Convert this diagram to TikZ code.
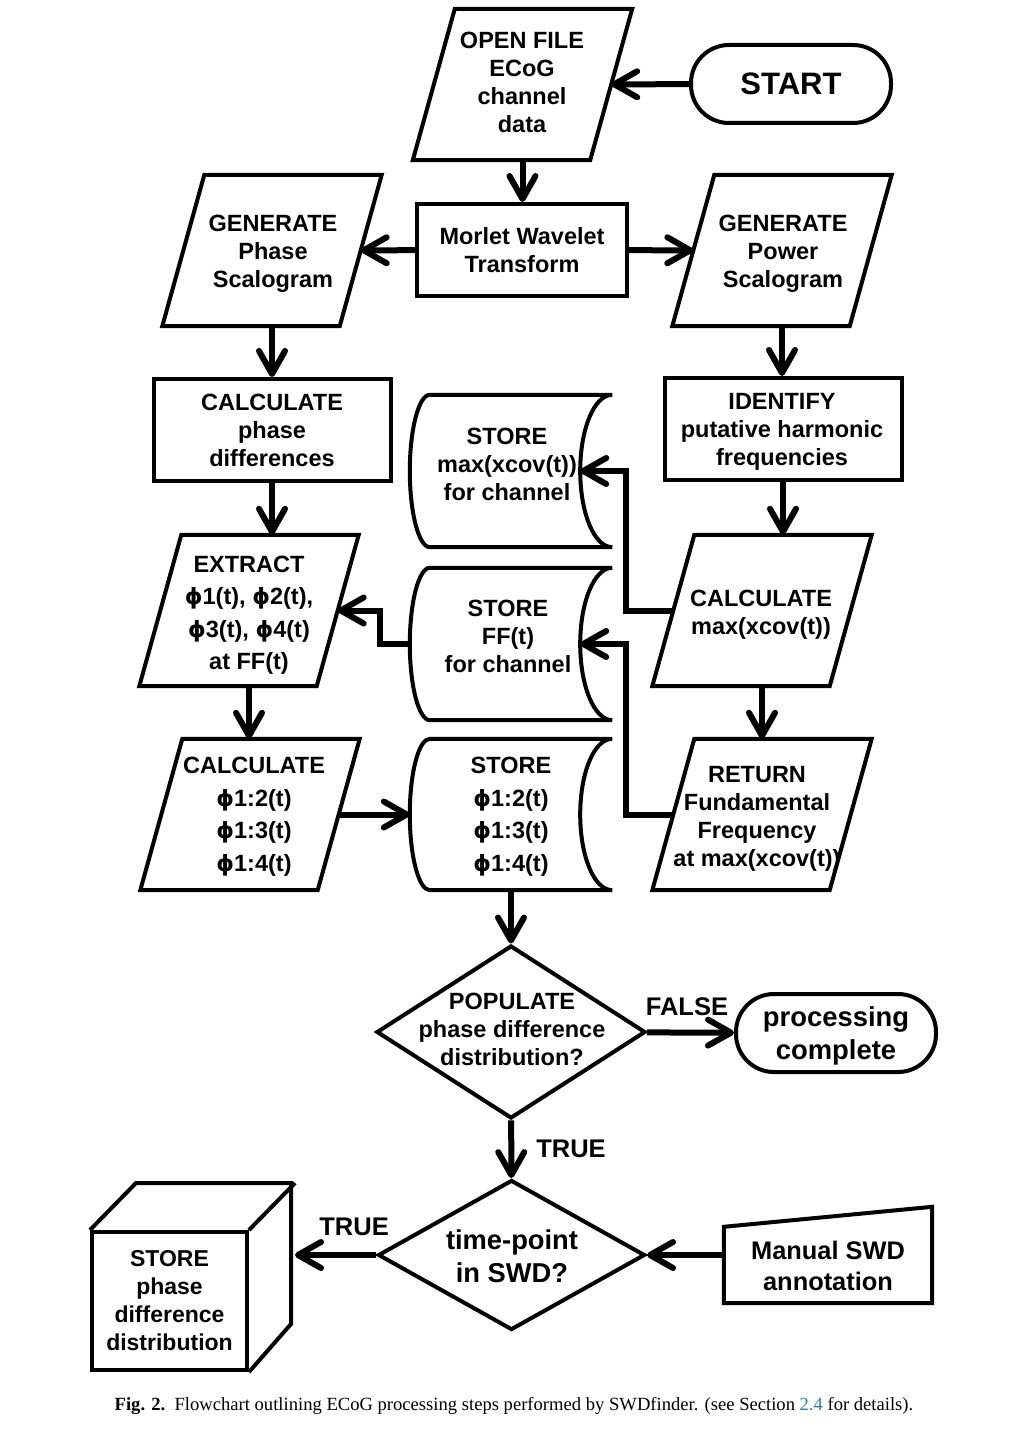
\documentclass[tikz,border=0pt]{standalone}
\usepackage{fontspec}
\setmainfont{Liberation Sans}
\newfontfamily\capfont{Liberation Serif}
\newfontfamily\symfont{DejaVu Sans}[Scale=0.95]
\usetikzlibrary{shapes.geometric,arrows.meta}
\definecolor{linkblue}{RGB}{40,125,185}

\newcommand{\bodyfont}{\fontsize{23.5pt}{28pt}\selectfont\bfseries}
\newcommand{\phifont}{\fontsize{23.5pt}{32.5pt}\selectfont\bfseries}
\newcommand{\ph}{{\symfont ϕ}}

% outline of a stored-data symbol round an empty node
\newcommand{\storedata}[1]{%
  \draw[outline] ([xshift=20pt]#1.north west) -- (#1.north east)
    .. controls ([xshift=-18pt]#1.north east) and ([shift={(-32,-42)}]#1.east) .. ([xshift=-32pt]#1.east)
    .. controls ([shift={(-32,42)}]#1.east) and ([xshift=-18pt]#1.south east) .. (#1.south east)
    -- ([xshift=20pt]#1.south west)
    .. controls ([xshift=9pt]#1.south west) and ([shift={(0,42)}]#1.west) .. (#1.west)
    .. controls ([shift={(0,-42)}]#1.west) and ([xshift=9pt]#1.north west) .. cycle;}
% slanted input/output box round an empty node
\newcommand{\iooutline}[1]{%
  \draw[outline] ([xshift=-21pt]#1.south west) -- ([xshift=21pt]#1.north west)
    -- ([xshift=21pt]#1.north east) -- ([xshift=-21pt]#1.south east) -- cycle;}

\begin{document}
\begin{tikzpicture}[x=1pt, y=-1pt,
    outline/.style={line width=4pt},
    arrow/.style={line width=6pt, -{Straight Barb[length=23pt,width=26pt,round]}},
    txt/.style={align=center, inner sep=0pt, font=\bodyfont},
    lbl/.style={inner sep=2pt, font=\fontsize{25.5pt}{30pt}\selectfont\bfseries},
    process/.style={rectangle, draw, outline, txt, minimum width=237pt, minimum height=102pt},
    io/.style={rectangle, minimum width=177pt, minimum height=151pt, inner sep=0pt},
    decision/.style={diamond, draw, outline, inner sep=0pt},
    terminal/.style={rectangle, draw, outline, rounded corners=38pt, txt,
      minimum width=200pt, minimum height=78pt},
    store/.style={rectangle, minimum width=202pt, minimum height=152pt, inner sep=0pt}]

    \useasboundingbox (0,0) rectangle (1014,1434);

    % top row
    \node[terminal, font=\fontsize{31pt}{36pt}\selectfont\bfseries] (start) at (791,84) {START};
    \node[io] (open) at (522.5,84.5) {};
    \iooutline{open}
    \node[txt] (opentxt) at (522,82) {OPEN FILE\\ECoG\\channel\\data};
    \node[process, minimum width=210pt, minimum height=92pt] (morlet) at (522,250) {Morlet Wavelet\\Transform};
    \node[io] (gphase) at (272,250.5) {};
    \iooutline{gphase}
    \node[txt] (gphasetxt) at (273,254) {GENERATE\\Phase\\Scalogram};
    \node[io] (gpower) at (782,250.5) {};
    \iooutline{gpower}
    \node[txt] (gpowertxt) at (783,254) {GENERATE\\Power\\Scalogram};

    % middle block
    \node[process] (cphase) at (272,430) {CALCULATE\\phase\\differences};
    \node[process] (ident) at (783,429) {};
    \node[txt] (identtxt) at (782,432) {IDENTIFY\\putative harmonic\\frequencies};
    \node[io] (extract) at (249,610.5) {};
    \iooutline{extract}
    \node[txt, font=\phifont] (extracttxt) at (249,615) {EXTRACT\\\ph1(t), \ph2(t),\\\ph3(t), \ph4(t)\\at FF(t)};
    \node[io] (cmax) at (762,610.5) {};
    \iooutline{cmax}
    \node[txt] (cmaxtxt) at (761,615) {CALCULATE\\max(xcov(t))};
    \node[io] (cphi) at (250,814.5) {};
    \iooutline{cphi}
    \node[txt, font=\phifont] (cphitxt) at (254,816.5) {CALCULATE\\\ph1:2(t)\\\ph1:3(t)\\\ph1:4(t)};
    \node[io] (ret) at (762,814.5) {};
    \iooutline{ret}
    \node[txt] (rettxt) at (757,819) {RETURN\\Fundamental\\Frequency\\at max(xcov(t))};

    \node[store] (smax) at (511,471) {};
    \storedata{smax}
    \node[txt] (smaxtxt) at (507,464) {STORE\\max(xcov(t))\\for channel};
    \node[store] (sff) at (511,644) {};
    \storedata{sff}
    \node[txt] (sfftxt) at (508,636) {STORE\\FF(t)\\for channel};
    \node[store, minimum height=151pt] (sphi) at (511,814.5) {};
    \storedata{sphi}
    \node[txt, font=\phifont] (sphitxt) at (511,816.5) {STORE\\\ph1:2(t)\\\ph1:3(t)\\\ph1:4(t)};

    % decisions
    \node[decision, minimum width=269pt, minimum height=173pt] (pop) at (511,1032) {};
    \node[txt] (poptxt) at (512,1029) {POPULATE\\phase difference\\distribution?};
    \node[terminal] (done) at (836,1033) {};
    \node[txt, font=\fontsize{27.4pt}{33pt}\selectfont\bfseries] (donetxt) at (836,1036) {processing\\complete};
    \node[decision, minimum width=267pt, minimum height=150pt] (tp) at (511.5,1255) {};
    \node[txt, font=\fontsize{27.3pt}{33pt}\selectfont\bfseries] (tptxt) at (512,1256) {time-point\\in SWD?};
    \node[rectangle, minimum width=208pt, minimum height=96pt] (manual) at (828,1255) {};
    \draw[outline] (manual.south west) -- ([yshift=-20pt]manual.north west) -- (manual.north east)
      -- (manual.south east) -- cycle;
    \node[txt, font=\fontsize{25.4pt}{31pt}\selectfont\bfseries] (manualtxt) at (828,1266) {Manual SWD\\annotation};
    \node[draw, outline, txt, font=\fontsize{23pt}{28pt}\selectfont\bfseries,
      minimum width=155pt, minimum height=138pt] (cube) at (169.5,1301) {STORE\\phase\\difference\\distribution};
    \draw[outline] (cube.north west) -- ++(46,-47) -- ++(155,0) -- ++(0,141) -- (cube.south east);
    \draw[outline] (cube.north east) -- ++(46,-47);
    \coordinate (cubeback) at ([xshift=46pt]cube.east);

    % connectors
    \draw[arrow] (start) -- (open);
    \draw[arrow] (open) -- (open |- morlet.north);
    \draw[arrow] (morlet) -- (gphase);
    \draw[arrow] (morlet) -- (gpower);
    \draw[arrow] (gphase) -- (cphase);
    \draw[arrow] (gpower) -- (gpower |- ident.north);
    \draw[arrow] (cphase) -- (cphase |- extract.north);
    \draw[arrow] (ident) -- (ident |- cmax.north);
    \draw[arrow] (extract) -- (extract |- cphi.north);
    \draw[arrow] (cmax) -- (ret);
    \draw[arrow] (cmax.west) -- ++(-47,0) |- ([xshift=-32pt]smax.east);
    \draw[arrow] (ret.west) -- ++(-47,0) |- ([xshift=-32pt]sff.east);
    \draw[arrow] (sff.west) -- ++(-30,0) |- (extract.east);
    \draw[arrow] (cphi) -- (sphi);
    \draw[arrow] (sphi) -- (pop);
    \draw[arrow] (pop) -- node[lbl, pos=0.46, above=12pt] {FALSE} (done);
    \draw[arrow] (pop) -- node[lbl, midway, right=20pt] {TRUE} (tp);
    \draw[arrow] (tp) -- node[lbl, pos=0.27, above=14pt] {TRUE} (tp -| cubeback);
    \draw[arrow] (manual) -- (tp);

    \node[font=\capfont\fontsize{18.6pt}{22pt}\selectfont] (caption) at (514,1406)
      {\textbf{Fig. 2.}\ \ Flowchart outlining ECoG processing steps performed by SWDfinder. (see Section \textcolor{linkblue}{2.4} for details).};
\end{tikzpicture}
\end{document}
